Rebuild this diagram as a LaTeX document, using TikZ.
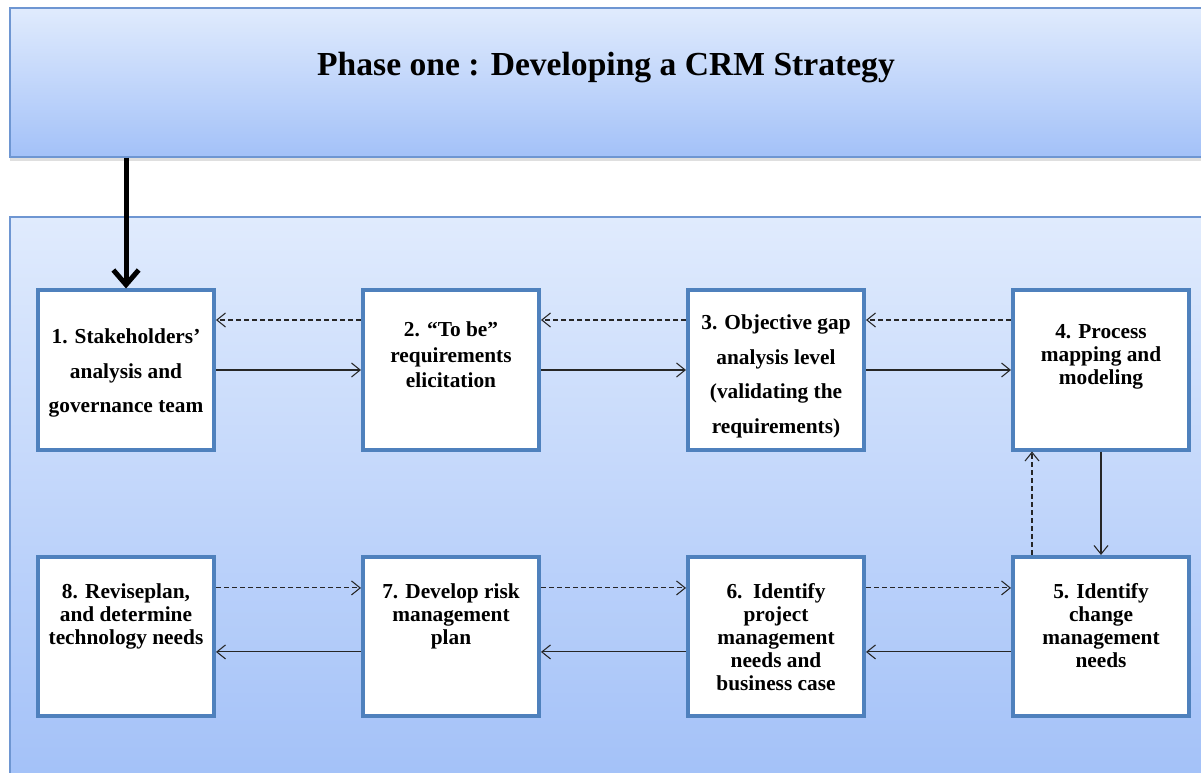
\documentclass[tikz,border=0pt]{standalone}
\usepackage{fontspec}
\setmainfont{Liberation Serif}
\usepackage{tikz}
\usetikzlibrary{positioning}
\usetikzlibrary{arrows.meta}
\usetikzlibrary{shadows}
\definecolor{boxblue}{RGB}{79,129,189}
\definecolor{edgeblue}{RGB}{110,150,210}
\definecolor{shadetop}{RGB}{224,235,253}
\definecolor{shadebot}{RGB}{163,193,248}
\tikzset{
	task node/.style={rectangle,draw=boxblue,line width=3pt,fill=white,
		minimum width=132pt,minimum height=119.25pt},
	task text/.style={anchor=north,align=center,inner sep=0pt,
		font=\fontsize{16}{17.25}\selectfont\bfseries},
	wide text/.style={task text,font=\fontsize{16}{26}\selectfont\bfseries},
	flow/.style={-{Straight Barb[length=6.5pt,width=10.5pt]},line width=0.8pt,draw=black!85},
	back/.style={flow,dash pattern=on 3.5pt off 2.5pt}
}

\begin{document}
\begin{tikzpicture}[x=0.75pt,y=-0.75pt,node distance=77.6pt and 108.75pt]
	\useasboundingbox (0,0) rectangle (1201,773);
	\clip (0,0) rectangle (1201,773);
	\fill [white] (0,0) rectangle (1201,773);
	% phase banner and panel
	\node [rectangle,draw=edgeblue,line width=1pt,top color=shadetop,bottom color=shadebot,
	  drop shadow={shadow xshift=0pt,shadow yshift=-3pt,opacity=0.25},
	  minimum width=900pt,minimum height=111.75pt] (banner) at (610,82.5) {};
	\node [anchor=base,font=\fontsize{25.2}{30}\selectfont\bfseries] (title) at (606,75.5)
	  {Phase one : Developing a CRM Strategy};
	\shade [top color=shadetop,bottom color=shadebot,draw=edgeblue,line width=1pt]
	  (10,217) rectangle (1220,780);
	% steps
	\node [task node] (b1) at (126,370) {};
	\node [task node,right=of b1] (b2) {};
	\node [task node,right=of b2] (b3) {};
	\node [task node,right=of b3] (b4) {};
	\node [task node,below=of b4] (b5) {};
	\node [task node,left=of b5] (b6) {};
	\node [task node,left=of b6] (b7) {};
	\node [task node,left=of b7] (b8) {};
	\node [wide text] (t1) at ([yshift=-30pt]b1.north) {1. Stakeholders’\\analysis and\\governance team};
	\node [task text,font=\fontsize{16}{19}\selectfont\bfseries] (t2) at ([yshift=-25pt]b2.north) {2. “To be”\\requirements\\elicitation};
	\node [wide text] (t3) at ([yshift=-19.5pt]b3.north) {3. Objective gap\\analysis level\\(validating the\\requirements)};
	\node [task text] (t4) at ([yshift=-26.6pt]b4.north) {4. Process\\mapping and\\modeling};
	\node [task text] (t5) at ([yshift=-21pt]b5.north) {5. Identify\\change\\management\\needs};
	\node [task text] (t6) at ([yshift=-21pt]b6.north) {6.\ \ Identify\\project\\management\\needs and\\business case};
	\node [task text] (t7) at ([yshift=-21pt]b7.north) {7. Develop risk\\management\\plan};
	\node [task text] (t8) at ([yshift=-21pt]b8.north) {8. Reviseplan,\\and determine\\technology needs};
	% connectors
	\draw [line width=3.75pt,-{Straight Barb[length=11pt,width=19pt]}] (b1.north |- banner.south) -- (b1.north);
	\draw [flow] (b1) -- (b2);
	\draw [flow] (b2) -- (b3);
	\draw [flow] (b3) -- (b4);
	\draw [back] ([yshift=37.5pt]b2.west) -- ([yshift=37.5pt]b1.east);
	\draw [back] ([yshift=37.5pt]b3.west) -- ([yshift=37.5pt]b2.east);
	\draw [back] ([yshift=37.5pt]b4.west) -- ([yshift=37.5pt]b3.east);
	\draw [flow] (b4) -- (b5);
	\draw [back] ([xshift=-51.75pt]b5.north) -- ([xshift=-51.75pt]b4.south);
	\draw [flow] ([yshift=-11.6pt]b5.west) -- ([yshift=-11.6pt]b6.east);
	\draw [flow] ([yshift=-11.6pt]b6.west) -- ([yshift=-11.6pt]b7.east);
	\draw [flow] ([yshift=-11.6pt]b7.west) -- ([yshift=-11.6pt]b8.east);
	\draw [back] ([yshift=36.4pt]b8.east) -- ([yshift=36.4pt]b7.west);
	\draw [back] ([yshift=36.4pt]b7.east) -- ([yshift=36.4pt]b6.west);
	\draw [back] ([yshift=36.4pt]b6.east) -- ([yshift=36.4pt]b5.west);
\end{tikzpicture}
\end{document}
